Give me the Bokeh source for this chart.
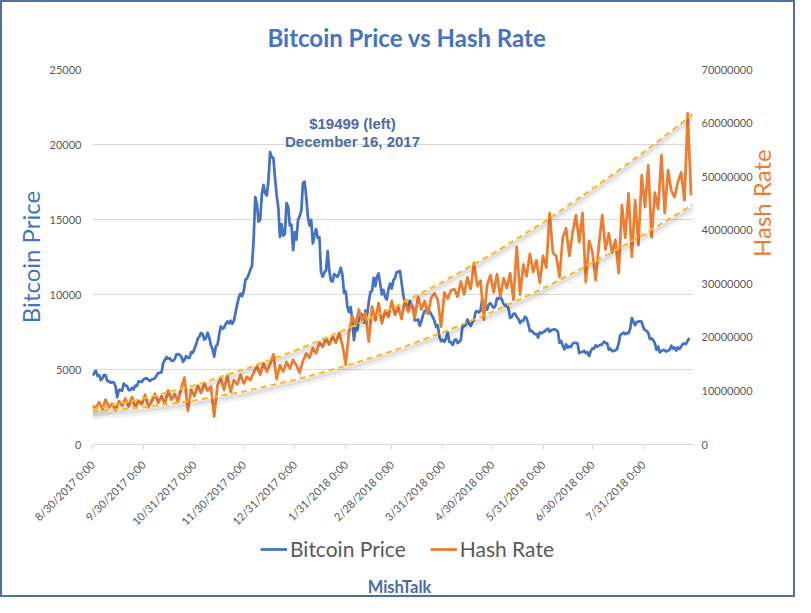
import math
import pandas as pd
from bokeh.plotting import figure
from bokeh.layouts import column
from bokeh.models import (Range1d, LinearAxis, FixedTicker, CustomJSTickFormatter, Label,
                          Legend, LegendItem, BasicTickFormatter, Title)
from bokeh.embed import file_html
from bokeh.resources import INLINE

# ---------------- data ----------------
price_start = "2017-08-30"          # daily Bitcoin price (USD)
price_aug17 = [4579, 4766]
price_sep17 = [4921, 4586, 4629, 4302, 4407, 4637, 4606, 4229, 4226, 4122, 4162, 4130, 3882, 3154, 3637,
               3625, 3583, 4065, 3924, 3905, 3631, 3631, 3779, 3660, 3927, 3892, 4208, 4195, 4174, 4341]
price_oct17 = [4403, 4409, 4318, 4229, 4329, 4370, 4427, 4611, 4773, 4782, 4820, 5431, 5637, 5829, 5710, 5755,
               5595, 5572, 5695, 6005, 6019, 5983, 5876, 5505, 5669, 5893, 5772, 5776, 6154, 6105, 6389]
price_nov17 = [6665, 7058, 7197, 7437, 7377, 6989, 7093, 7460, 7143, 6619, 6357, 5850, 6559, 6636, 7315,
               7871, 7708, 7790, 8036, 8200, 8071, 8253, 8038, 8253, 8791, 9330, 9818, 10058, 9888, 10233]
price_dec17 = [10975, 11075, 11323, 11657, 11916, 13700, 16500, 16000, 14850, 15000, 16700, 17300, 16750,
               16600, 17600, 19497, 19140, 19114, 17776, 16624, 15802, 13831, 14699, 13925, 14026, 16099,
               15838, 14606, 14656, 12952, 14156]
price_jan18 = [13657, 14982, 15201, 15599, 17429, 17527, 16477, 15170, 14595, 14973, 13405, 13980, 14360,
               13772, 13819, 11490, 11188, 11474, 11607, 12899, 11600, 10931, 10868, 11359, 11259, 11171,
               11440, 11786, 11296, 10106, 10221]
price_feb18 = [9170, 8830, 9174, 8277, 6955, 7754, 7621, 8265, 8736, 8621, 8129, 8926, 8598, 9494, 10166,
               10233, 11112, 10551, 11225, 11403, 10690, 10005, 10301, 9813, 9664, 10366, 10725, 10397]
price_mar18 = [10951, 11086, 11489, 11512, 11573, 10779, 9965, 9395, 9337, 8866, 9578, 9205, 9194, 8269,
               8300, 8338, 7916, 8223, 8630, 8913, 8929, 8728, 8879, 8668, 8495, 8209, 7833, 7954, 7165,
               6890, 6973]
price_apr18 = [6845, 7083, 7456, 6853, 6811, 6636, 6911, 7023, 6770, 6834, 6968, 7889, 7895, 7986, 8329,
               8058, 7902, 8163, 8294, 8845, 8895, 8802, 8930, 9697, 8845, 9281, 8987, 9348, 9419, 9240]
price_may18 = [9119, 9235, 9743, 9700, 9858, 9654, 9373, 9234, 9325, 9043, 8441, 8504, 8723, 8716, 8510,
               8368, 8094, 8250, 8247, 8514, 8418, 8041, 7557, 7587, 7480, 7355, 7368, 7135, 7472, 7406, 7494]
price_jun18 = [7541, 7643, 7720, 7514, 7633, 7653, 7678, 7624, 7531, 6786, 6906, 6582, 6349, 6675, 6456,
               6550, 6499, 6734, 6769, 6776, 6729, 6083, 6162, 6173, 6249, 6093, 6157, 5903, 6218, 6404]
price_jul18 = [6385, 6614, 6529, 6597, 6639, 6673, 6857, 6773, 6741, 6329, 6394, 6228, 6238, 6276, 6359,
               6742, 7321, 7370, 7466, 7354, 7419, 7418, 7712, 8424, 8181, 7951, 8166, 8192, 8218, 8180, 7780]
price_aug18 = [7625, 7567, 7434, 7032, 7068, 6951, 6753, 6306, 6529, 6145, 6232, 6308, 6275, 6187, 6267,
               6309, 6584, 6387, 6475, 6259, 6473, 6362, 6526, 6707, 6720, 6710, 6928, 7100]

hash_start = "2017-08-30"           # hash rate (millions TH/s), every 2 days
hash_2017 = [7.2, 6.8, 7.9, 6.6, 8.4, 7.0, 7.6, 6.4, 8.1, 7.3,
             8.6, 7.1, 8.9, 6.9, 8.2, 7.5, 9.3, 7.0, 8.0, 9.5,
             7.8, 9.0, 7.6, 10.1, 8.3, 9.4, 8.0, 10.6, 12.5, 6.3,
             10.2, 9.0, 11.0, 9.6, 11.4, 10.0, 10.8, 5.2, 11.0, 12.4,
             10.2, 12.8, 9.8, 12.0, 11.2, 13.0, 11.4, 12.6, 12.0, 13.4,
             14.6, 13.0, 15.2, 13.6, 15.0, 16.8, 12.2, 14.8, 13.6, 15.4,
             14.2, 15.8]
hash_2018 = [14.8, 13.4, 15.6, 17.0, 16.2, 18.0, 17.0, 19.0,
             18.2, 19.8, 18.6, 20.2, 19.0, 20.8, 18.6, 14.9, 21.0, 24.0,
             22.4, 25.2, 23.0, 24.6, 19.2, 25.8, 23.2, 26.4, 22.6, 25.0,
             23.8, 26.8, 24.2, 25.6, 23.4, 27.0, 24.8, 26.2, 23.6, 27.6,
             25.2, 26.8, 24.4, 27.4, 28.2, 27.0, 22.0, 28.4, 27.2, 28.8,
             29.0, 27.6, 30.4, 28.0, 31.2, 29.0, 33.9, 29.6, 30.6, 23.3,
             29.8, 31.6, 28.4, 31.8, 27.6, 31.0, 29.2, 32.0, 27.0, 36.9,
             28.0, 33.6, 31.4, 35.6, 32.2, 34.4, 30.2, 35.2, 33.0, 43.2,
             35.8, 35.2, 31.3, 38.6, 40.4, 35.2, 39.6, 42.8, 37.8, 43.2,
             30.3, 38.0, 36.0, 30.7, 37.4, 42.8, 36.4, 39.4, 35.8, 38.2,
             32.0, 44.7, 38.6, 46.9, 35.0, 45.6, 37.2, 50.3, 44.3, 52.1,
             38.7, 47.0, 44.0, 54.0, 43.2, 51.2, 47.4, 46.2, 49.0, 50.8,
             45.6, 61.8, 46.5]

channel_dates = ["2017-08-30", "2017-09-30", "2017-10-31", "2017-11-30", "2017-12-31", "2018-01-31",
                 "2018-02-28", "2018-03-31", "2018-04-30", "2018-05-31", "2018-06-30", "2018-07-31",
                 "2018-08-30"]
upper_channel_m = [6.55, 8.56, 11.06, 14.0, 17.5, 21.47, 25.43, 30.37, 35.56, 41.44, 47.7, 54.5, 61.64]
lower_channel_m = [6.16, 6.95, 8.21, 9.89, 12.06, 14.67, 17.41, 20.93, 24.72, 29.14, 33.9, 39.17, 44.77]

xtick_dates = channel_dates[:-1]
left_ticks = [0, 5000, 10000, 15000, 20000, 25000]
right_ticks = [0, 10000000, 20000000, 30000000, 40000000, 50000000, 60000000, 70000000]
series_names = ["Bitcoin Price", "Hash Rate"]

# ---------------- derived ----------------
btc_price = (price_aug17 + price_sep17 + price_oct17 + price_nov17 + price_dec17 + price_jan18 +
             price_feb18 + price_mar18 + price_apr18 + price_may18 + price_jun18 + price_jul18 + price_aug18)
price_dates = pd.date_range(price_start, periods=len(btc_price), freq="D")
hash_m = hash_2017 + hash_2018
hash_rate = [v * 1e6 for v in hash_m]
hash_dates = pd.date_range(hash_start, periods=len(hash_rate), freq="2D")
ch_dates = pd.to_datetime(channel_dates)
upper = [v * 1e6 for v in upper_channel_m]
lower = [v * 1e6 for v in lower_channel_m]

BLUE = "#4472C4"
ORANGE = "#ED7D31"
GOLD = "#FFB81C"
GREY = "#595959"
ANN = "#4A6AAB"
W = 791

p = figure(width=W, height=533, x_axis_type="datetime", output_backend="svg", toolbar_location=None,
           x_range=Range1d(pd.Timestamp("2017-08-30"), pd.Timestamp("2018-08-30") + pd.Timedelta(hours=12)),
           y_range=Range1d(0, 25000),
           min_border_left=90, min_border_right=95, min_border_top=67, min_border_bottom=90)
p.outline_line_color = None
p.background_fill_color = "white"
p.border_fill_color = "white"
p.extra_y_ranges = {"hash": Range1d(0, 70000000)}

# title (plus a thin spacer between title and frame)
p.title.text = "Bitcoin Price vs Hash Rate"
p.title.align = "left"
p.title.offset = 175
p.title.text_font = "Lato"
p.title.text_font_size = "24px"
p.title.text_font_style = "bold"
p.title.text_color = BLUE
p.add_layout(Title(text=" ", text_font_size="1px"), "above")

# axes
xa = p.xaxis[0]
xa.ticker = FixedTicker(ticks=[pd.Timestamp(d).value // 10**6 for d in xtick_dates])
xa.formatter = CustomJSTickFormatter(code="""
const d = new Date(tick);
return (d.getUTCMonth() + 1) + "/" + d.getUTCDate() + "/" + d.getUTCFullYear() + " 0:00";
""")
xa.major_label_orientation = math.pi / 4
xa.axis_line_color = "#D9D9D9"
xa.major_tick_line_color = "#D9D9D9"
xa.major_tick_out = 5
xa.major_tick_in = 0
xa.minor_tick_line_color = None
xa.major_label_text_font = "Lato"
xa.major_label_text_font_size = "11px"
xa.major_label_text_color = GREY
xa.major_label_standoff = 13

ya = p.yaxis[0]
ya.ticker = FixedTicker(ticks=left_ticks)
ya.formatter = BasicTickFormatter(use_scientific=False)
ya.axis_line_color = None
ya.major_tick_line_color = None
ya.minor_tick_line_color = None
ya.major_tick_out = 0
ya.major_label_standoff = 11
ya.major_label_text_font = "Lato"
ya.major_label_text_font_size = "11px"
ya.major_label_text_color = GREY
ya.axis_label = "Bitcoin Price"
ya.axis_label_text_font = "Lato"
ya.axis_label_text_font_size = "24px"
ya.axis_label_text_font_style = "normal"
ya.axis_label_text_color = BLUE
ya.axis_label_standoff = 2

ra = LinearAxis(y_range_name="hash", ticker=FixedTicker(ticks=right_ticks),
                formatter=BasicTickFormatter(use_scientific=False))
ra.axis_line_color = None
ra.major_tick_line_color = None
ra.minor_tick_line_color = None
ra.major_tick_out = 0
ra.major_label_standoff = 8
ra.major_label_text_font = "Lato"
ra.major_label_text_font_size = "11px"
ra.major_label_text_color = GREY
ra.axis_label = "Hash Rate"
ra.axis_label_text_font = "Lato"
ra.axis_label_text_font_size = "24px"
ra.axis_label_text_font_style = "normal"
ra.axis_label_text_color = ORANGE
ra.axis_label_standoff = 6
try:
    ra.axis_label_orientation = math.pi / 2
except Exception:
    pass
p.add_layout(ra, "right")

p.xgrid.visible = False
p.ygrid.grid_line_color = "#D9D9D9"
p.ygrid.grid_line_width = 1

# series
r_price = p.line(price_dates, btc_price, color=BLUE, line_width=2.75, line_join="round")
r_hash = p.line(hash_dates, hash_rate, color=ORANGE, line_width=2.75, line_join="round", y_range_name="hash")

# channel lines with soft shadow
for vals in (upper, lower):
    sh1 = [v - 0.9e6 for v in vals]
    sh2 = [v - 0.6e6 for v in vals]
    p.line(ch_dates, sh1, y_range_name="hash", color="#000000", alpha=0.05, line_width=7)
    p.line(ch_dates, sh2, y_range_name="hash", color="#000000", alpha=0.07, line_width=4)
    p.line(ch_dates, vals, y_range_name="hash", color=GOLD, line_width=2, line_dash="6 4")

def lab(fig, text, x, y, size, color, style="normal", font="Lato"):
    fig.add_layout(Label(x=x, y=y, x_units="screen", y_units="screen", text=text, text_font=font,
                         text_font_size=size, text_color=color, text_font_style=style,
                         text_align="center", text_baseline="middle"))

lab(p, "$19499 (left)", 260, 321, "15px", ANN, "bold", "Liberation Sans")
lab(p, "December 16, 2017", 260, 303, "15px", ANN, "bold", "Liberation Sans")

# ---------------- footer strip: legend + credit (frame aligned with main frame) ----------------
f = figure(width=W, height=60, output_backend="svg", toolbar_location=None,
           x_range=Range1d(0, 100), y_range=Range1d(0, 100),
           x_axis_location=None, y_axis_location=None, min_border=0)
f.outline_line_color = None
f.grid.visible = False
f.background_fill_color = "white"
f.border_fill_color = "white"
# legend-key renderers, kept outside the visible ranges
k_price = f.line(x=[-20, -10], y=[-20, -20], color=BLUE, line_width=2.75)
k_hash = f.line(x=[-20, -10], y=[-20, -20], color=ORANGE, line_width=2.75)
legend = Legend(items=[LegendItem(label=series_names[0], renderers=[k_price]),
                       LegendItem(label=series_names[1], renderers=[k_hash])],
                location=(168, 34), orientation="horizontal")
legend.border_line_color = None
legend.background_fill_alpha = 0
legend.padding = 0
legend.margin = 0
legend.spacing = 24
legend.label_standoff = 3
legend.glyph_width = 27
legend.glyph_height = 24
legend.label_height = 24
legend.label_text_font = "Lato"
legend.label_text_font_size = "21px"
legend.label_text_color = GREY
f.add_layout(legend)
lab(f, "MishTalk", 307, 9, "16.5px", ANN, "bold", "Lato")

page = column(p, f, spacing=0, styles={"border": "2px solid #4F6EA8"})
open("out.html", "w").write(file_html(page, INLINE))
